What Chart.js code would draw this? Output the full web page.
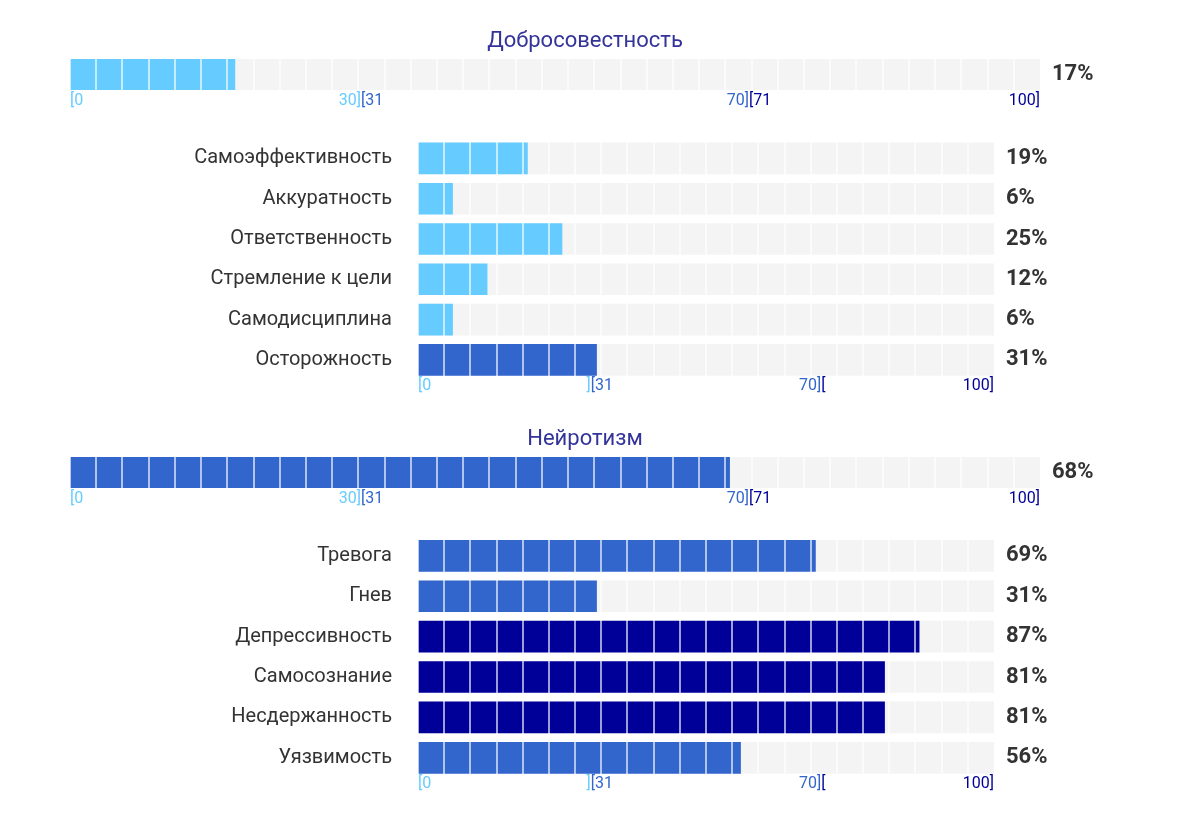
<!DOCTYPE html>
<html>
<head>
<meta charset="utf-8">
<script src="https://cdn.jsdelivr.net/npm/chart.js@4.4.1/dist/chart.umd.min.js"></script>
<style>
  body { margin: 0; background: #fff; }
  #wrap { position: relative; width: 1178px; height: 816px; }
  canvas { position: absolute; left: 0; }
</style>
</head>
<body>
<div id="wrap">
  <canvas id="mainCons" width="1170" height="110" style="top:0px"></canvas>
  <canvas id="subCons" width="1170" height="288" style="top:112px"></canvas>
  <canvas id="mainNeur" width="1170" height="110" style="top:398px"></canvas>
  <canvas id="subNeur" width="1170" height="288" style="top:510px"></canvas>
</div>
<script>
// data
const mainTitles = ["Добросовестность", "Нейротизм"];
const mainValues = [17, 68];

const consLabels = ["Самоэффективность", "Аккуратность", "Ответственность", "Стремление к цели", "Самодисциплина", "Осторожность"];
const consValues = [19, 6, 25, 12, 6, 31];

const neurLabels = ["Тревога", "Гнев", "Депрессивность", "Самосознание", "Несдержанность", "Уязвимость"];
const neurValues = [69, 31, 87, 81, 81, 56];

// range tick labels under the bars
const rangeTickValues = [0, 30, 30, 70, 70, 100];
const mainTickLabels = ["[0", "30]", "[31", "70]", "[71", "100]"];
const subTickLabels = ["[0", "]", "[31", "70]", "[", "100]"];

const LIGHT = "#66ccff";
const MEDIUM = "#3366cc";
const NAVY = "#000099";
const BG = "#f4f4f4";
const FONT = "Roboto, 'Noto Sans', sans-serif";

function levelColor(v) {
    if (v <= 30) return LIGHT;
    if (v <= 70) return MEDIUM;
    return NAVY;
}

// draws the coloured range labels under the last bar
const rangeTicksPlugin = {
    id: "rangeTicks",
    afterDraw(chart, args, opts) {
        const x = chart.scales.x;
        const y = chart.scales.y;
        const last = chart.data.labels.length - 1;
        const ty = y.getPixelForValue(last) + 15.5 + 11;
        const ctx = chart.ctx;
        ctx.save();
        ctx.font = "16px " + FONT;
        ctx.textBaseline = "middle";
        opts.labels.forEach((txt, i) => {
            const v = rangeTickValues[i];
            ctx.fillStyle = levelColor(i % 2 === 0 ? v + (v > 0 ? 1 : 0) : v);
            ctx.textAlign = i % 2 === 0 ? "left" : "right";
            ctx.fillText(txt, x.getPixelForValue(v), ty);
        });
        ctx.restore();
    }
};

// no extra vertical padding from axis labels
function noPad(s) {
    s.paddingTop = 0;
    s.paddingBottom = 0;
}

function makeChart(id, cfg) {
    const cells = cfg.cells;
    const left = cfg.left;
    const right = cfg.right;
    return new Chart(document.getElementById(id), {
        type: "bar",
        data: {
            labels: cfg.labels,
            datasets: [
                {
                    data: cfg.values,
                    backgroundColor: cfg.values.map(levelColor),
                    order: 1
                },
                {
                    data: cfg.values.map(() => 100),
                    backgroundColor: BG,
                    order: 2
                }
            ]
        },
        plugins: [rangeTicksPlugin],
        options: {
            responsive: false,
            animation: false,
            indexAxis: "y",
            layout: { padding: { top: cfg.padTop || 0, left: 0, right: 0, bottom: 0 } },
            datasets: { bar: { grouped: false, barThickness: 31 } },
            plugins: {
                legend: { display: false },
                tooltip: { enabled: false },
                title: {
                    display: !!cfg.title,
                    text: cfg.title,
                    color: "#333399",
                    font: { family: FONT, size: 22, weight: "normal" },
                    padding: { top: 27.8, bottom: 4.8 }
                },
                rangeTicks: { labels: cfg.tickLabels }
            },
            scales: {
                x: {
                    type: "linear",
                    min: 0,
                    max: 100,
                    afterBuildTicks: (s) => {
                        s.ticks = Array.from({ length: cells + 1 }, (_, i) => ({ value: i * 100 / cells }));
                    },
                    afterFit: (s) => { s.height = 20; },
                    ticks: { display: false },
                    border: { display: false },
                    grid: {
                        z: 1,
                        drawTicks: false,
                        lineWidth: 2,
                        color: (c) => (c.index === 0 || c.index === cells) ? "rgba(0,0,0,0)" : "rgba(255,255,255,0.62)"
                    }
                },
                y: {
                    type: "category",
                    offset: true,
                    afterFit: (s) => { s.width = left; noPad(s); },
                    ticks: {
                        display: cfg.showLabels,
                        color: "#333",
                        padding: 26,
                        font: { family: FONT, size: 20 }
                    },
                    border: { display: false },
                    grid: { display: false, drawTicks: false }
                },
                yp: {
                    type: "category",
                    position: "right",
                    offset: true,
                    labels: cfg.values.map(v => v + "%"),
                    afterFit: (s) => { s.width = 1170 - right; noPad(s); },
                    ticks: {
                        color: "#333",
                        padding: 12,
                        font: { family: FONT, size: 22, weight: "bold" }
                    },
                    border: { display: false },
                    grid: { display: false, drawTicks: false }
                }
            }
        }
    });
}

makeChart("mainCons", {
    title: mainTitles[0], labels: [mainTitles[0]], values: [mainValues[0]],
    cells: 37, left: 70, right: 1040, showLabels: false, tickLabels: mainTickLabels
});
makeChart("subCons", {
    labels: consLabels, values: consValues, padTop: 26.3,
    cells: 22, left: 418, right: 994, showLabels: true, tickLabels: subTickLabels
});
makeChart("mainNeur", {
    title: mainTitles[1], labels: [mainTitles[1]], values: [mainValues[1]],
    cells: 37, left: 70, right: 1040, showLabels: false, tickLabels: mainTickLabels
});
makeChart("subNeur", {
    labels: neurLabels, values: neurValues, padTop: 25.7,
    cells: 22, left: 418, right: 994, showLabels: true, tickLabels: subTickLabels
});
</script>
</body>
</html>
